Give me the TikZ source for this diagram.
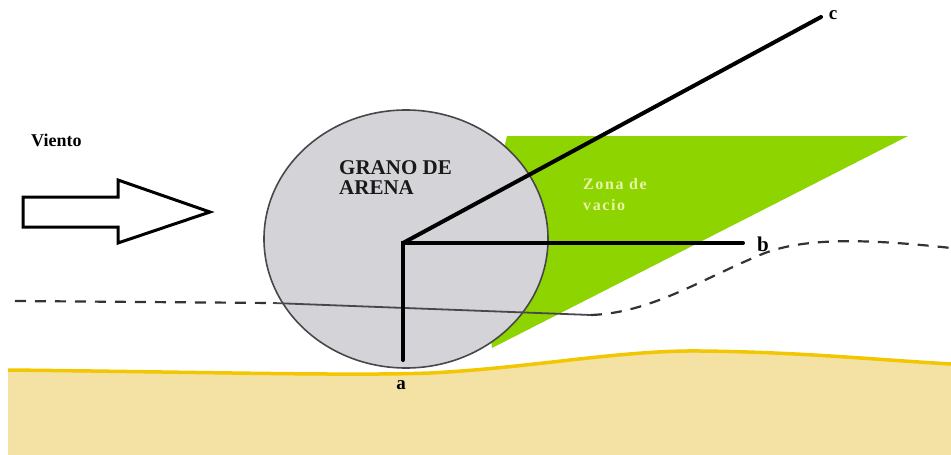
\documentclass[tikz,border=0pt]{standalone}
\usepackage{fontspec}
\setmainfont{Liberation Serif}
\definecolor{sand}{HTML}{F3E2A4}
\definecolor{sandedge}{HTML}{F2C600}
\definecolor{vacio}{HTML}{8ED400}
\definecolor{vaciotext}{HTML}{E8F4A8}
\definecolor{grain}{HTML}{D4D4D8}
\definecolor{grainedge}{HTML}{48484C}
\begin{document}
\begin{tikzpicture}[x=1pt,y=-1pt,
  label/.style={font=\fontsize{19}{19}\selectfont\bfseries, inner sep=0pt},
  axisline/.style={line width=4pt, line cap=round},
  flowline/.style={line width=2.2pt, draw=black!80, dash pattern=on 11pt off 9pt}]
\useasboundingbox (0,0) rectangle (951,455);

% ground
\fill[sand] (8,370) .. controls (200,372) and (350,376) .. (430,373)
  .. controls (530,368) and (620,350) .. (700,351)
  .. controls (800,352) and (880,360) .. (951,364)
  -- (951,455) -- (8,455) -- cycle;
\draw[sandedge, line width=3.5pt] (8,370) .. controls (200,372) and (350,376) .. (430,373)
  .. controls (530,368) and (620,350) .. (700,351)
  .. controls (800,352) and (880,360) .. (951,364);

% low-pressure zone behind the grain
\fill[vacio] (507,136) -- (908,136) -- (492,348) -- (480,250) -- cycle;

% sand grain
\draw[fill=grain, draw=grainedge, line width=1.6pt] (406,239) ellipse [x radius=142, y radius=129];

% air flow line
\draw[flowline] (15,301) -- (273,303);
\draw[grainedge, line width=1.8pt] (273,303) -- (591,315);
\draw[flowline] (591,315) .. controls (650,313) and (700,280) .. (760,255)
  .. controls (800,238) and (860,238) .. (951,248);

% wind arrow
\draw[line width=3pt, fill=white, line join=miter]
  (23,197) -- (118,197) -- (118,180) -- (210,212) -- (118,243) -- (118,227) -- (23,227) -- cycle;
\node[anchor=west, font=\fontsize{18}{18}\selectfont\bfseries, inner sep=0pt] (viento) at (31,140) {Viento};

% pivot and lever arms
\coordinate (o) at (403,243);
\coordinate (aend) at (403,360);
\coordinate (bend) at (743,243);
\coordinate (cend) at (821,17);
\node[label] (la) at (401,385) {a};
\node[label, font=\fontsize{21}{21}\selectfont\bfseries] (lb) at (763,244) {b};
\node[label] (lc) at (833,15) {c};
\draw[axisline] (aend) -- (o) -- (bend);
\draw[axisline] (o) -- (cend);

% labels
\node[anchor=north west, align=left, inner sep=0pt,
  font=\fontsize{21}{20}\selectfont\bfseries, text=black!90] (grano) at (339,160) {GRANO DE\\ARENA};
\node[anchor=north west, align=left, inner sep=0pt, text=vaciotext,
  font=\fontsize{16}{21}\selectfont\bfseries\addfontfeature{LetterSpace=10}] (zona) at (583,178) {Zona de\\vacio};
\end{tikzpicture}
\end{document}
